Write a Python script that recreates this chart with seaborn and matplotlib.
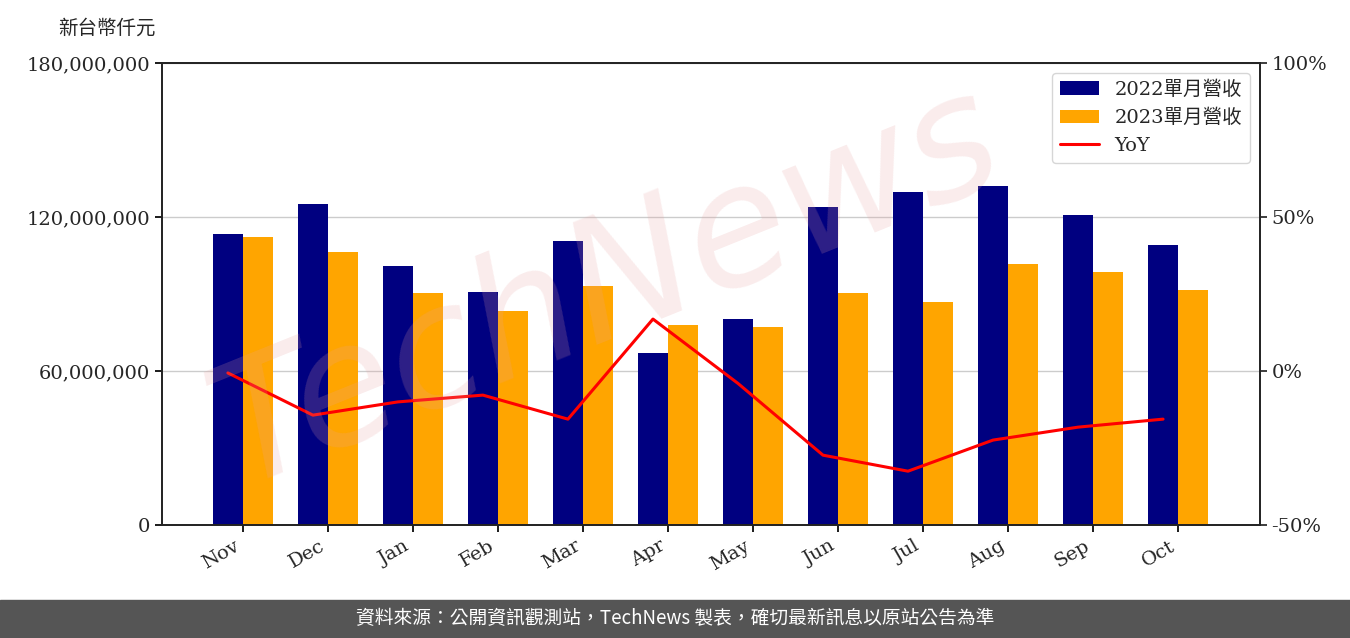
import numpy as np
import pandas as pd
import matplotlib
matplotlib.use("Agg")
import matplotlib.pyplot as plt
import seaborn as sns

months = ["Nov","Dec","Jan","Feb","Mar","Apr","May","Jun","Jul","Aug","Sep","Oct"]
rev_2022 = [113.4,125.1,100.9,90.8,110.6,67.0,80.3,123.9,129.7,132.1,120.8,109.1]
rev_2023 = [112.2,106.4,90.4,83.4,93.1,77.9,77.1,90.4,86.9,101.7,98.6,91.6]
yoy = [-0.6,-14.3,-10.0,-7.8,-15.6,16.9,-4.0,-27.3,-32.5,-22.4,-18.2,-15.6]
label_2022 = "2022單月營收"
label_2023 = "2023單月營收"

sns.set_theme(style="white")
plt.rcParams['font.family'] = ['DejaVu Serif', 'Noto Sans CJK TC']

df = pd.DataFrame({
    "month": months * 2,
    "rev": [v * 1e6 for v in rev_2022] + [v * 1e6 for v in rev_2023],
    "series": [label_2022] * 12 + [label_2023] * 12,
})

fig = plt.figure(figsize=(13.5, 6.38), dpi=100)
ax = fig.add_axes([0.12, 0.177, 0.813, 0.724])
sns.barplot(data=df, x="month", y="rev", hue="series", palette=["#000080", "#FFA500"],
            width=0.7, saturation=1, ax=ax, legend=True, linewidth=0)
ax.set_ylim(0, 180e6)
ax.set_yticks([0, 60e6, 120e6, 180e6])
ax.set_yticklabels([f"{int(v):,}" for v in [0, 60e6, 120e6, 180e6]], fontsize=14)
ax.yaxis.grid(True, color="#cccccc", lw=1)
ax.set_axisbelow(True)
ax.set_xlabel(""); ax.set_ylabel("")
ax.set_xlim(-0.95, 11.96)
plt.setp(ax.get_xticklabels(), rotation=30, ha="right", fontsize=14)
for s in ax.spines.values():
    s.set_color("black"); s.set_linewidth(1.2)
ax.tick_params(axis="both", length=5, color="black", bottom=True, left=True)

ax2 = ax.twinx()
xs = np.arange(len(months)) - 0.175
sns.lineplot(x=xs, y=yoy, color="red", lw=2.2, ax=ax2, label="YoY", legend=False)
ax2.set_ylim(-50, 100)
ax2.set_yticks([-50, 0, 50, 100])
ax2.set_yticklabels(["-50%", "0%", "50%", "100%"], fontsize=14)
ax2.tick_params(axis="y", length=5, right=True)
ax2.set_xlim(-0.95, 11.96)

h1, l1 = ax.get_legend_handles_labels()
h2, l2 = ax2.get_legend_handles_labels()
ax.get_legend().remove()
ax2.legend(h1 + h2, l1 + l2, loc="upper right", fontsize=14, frameon=True,
           edgecolor="#cccccc", fancybox=True)

fig.text(0.043, 0.955, "新台幣仟元", fontsize=14, ha="left", va="center")
fig.text(0.45, 0.55, "TechNews", fontsize=120, color="#e8a0a0", alpha=0.2,
         rotation=22, ha="center", va="center", family=["DejaVu Sans"], style="italic",
         zorder=0)

fig.patches.append(matplotlib.patches.Rectangle((0, 0), 1, 0.06, transform=fig.transFigure,
                                                color="#555555", zorder=-1))
fig.text(0.5, 0.03, "資料來源：公開資訊觀測站，TechNews 製表，確切最新訊息以原站公告為準",
         color="white", fontsize=13.5, ha="center", va="center",
         family=["Noto Sans CJK TC", "DejaVu Sans"])

fig.savefig("out.png", dpi=100)
